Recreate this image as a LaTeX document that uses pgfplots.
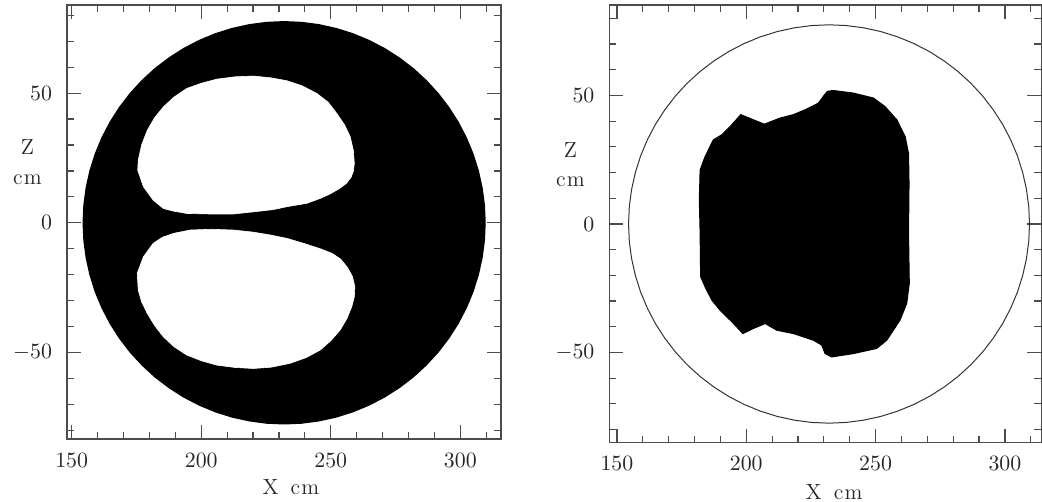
\documentclass[border=0pt]{standalone}
\usepackage{pgfplots}
\usepackage{pgfplotstable}
\pgfplotsset{compat=1.18}

\pgfplotstableread{
x y
309.50 0
309.21 6.76
308.32 13.46
306.86 20.06
304.83 26.51
302.24 32.75
299.12 38.75
295.48 44.45
291.37 49.82
286.80 54.80
281.82 59.37
276.45 63.48
270.75 67.12
264.75 70.24
258.51 72.83
252.06 74.86
245.46 76.32
238.75 77.21
232.00 77.50
225.25 77.21
218.54 76.32
211.94 74.86
205.49 72.83
199.25 70.24
193.25 67.12
187.55 63.48
182.18 59.37
177.20 54.80
172.63 49.82
168.52 44.45
164.88 38.75
161.76 32.75
159.17 26.51
157.14 20.06
155.68 13.46
154.80 6.76
154.50 0
154.80 -6.76
155.68 -13.46
157.14 -20.06
159.17 -26.51
161.76 -32.75
164.88 -38.75
168.52 -44.45
172.63 -49.82
177.20 -54.80
182.18 -59.37
187.55 -63.48
193.25 -67.12
199.25 -70.24
205.49 -72.83
211.94 -74.86
218.54 -76.32
225.25 -77.21
232.00 -77.50
238.75 -77.21
245.46 -76.32
252.06 -74.86
258.51 -72.83
264.75 -70.24
270.75 -67.12
276.45 -63.48
281.82 -59.37
286.80 -54.80
291.37 -49.82
295.48 -44.45
299.12 -38.75
302.24 -32.75
304.83 -26.51
306.86 -20.06
308.32 -13.46
309.21 -6.76
309.50 0
}\circletab

\pgfplotstableread{
x y
175.7 24.2
177.0 30.0
179.2 35.7
182.0 40.5
185.4 44.7
189.5 48.5
194.4 51.8
200.0 53.8
206.0 55.4
213.0 56.3
220.1 56.6
227.0 55.9
233.0 54.8
239.0 52.8
244.6 49.9
249.0 46.5
252.3 42.2
255.3 37.8
257.5 33.2
258.7 28.0
259.1 22.9
258.7 19.8
257.8 17.5
256.0 15.2
253.5 13.3
249.5 11.0
245.9 9.4
240.7 7.5
233.0 6.2
227.9 5.1
220.0 4.2
212.4 3.4
203.0 3.4
194.4 3.6
189.3 4.5
185.4 5.5
181.5 8.7
177.7 13.9
175.5 20.3
175.7 24.2
}\upperhole

\pgfplotstableread{
x y
189.3 -4.1
195.7 -2.8
204.0 -2.5
212.4 -2.8
220.0 -3.6
226.6 -4.7
233.0 -6.0
239.4 -7.9
245.9 -10.0
250.5 -11.8
253.8 -14.0
256.5 -17.3
258.4 -20.8
259.3 -24.7
259.1 -28.5
258.1 -32.4
256.2 -37.0
253.6 -41.4
250.0 -45.5
245.9 -49.1
240.5 -52.0
234.3 -54.2
227.0 -55.7
220.1 -56.2
213.0 -55.8
206.0 -54.9
200.0 -53.2
194.4 -51.0
189.5 -47.8
185.4 -44.0
182.0 -39.6
179.2 -35.0
177.0 -30.5
175.7 -26.0
175.3 -19.5
177.7 -13.1
181.5 -7.9
185.0 -5.6
189.3 -4.1
}\lowerhole

\pgfplotstableread{
x y
182.2 21.0
184.1 26.2
187.3 32.7
190.6 34.7
193.8 37.9
197.9 42.5
202.8 40.5
207.0 38.8
213.1 41.2
218.2 42.5
223.4 44.7
227.9 47.0
229.8 49.6
231.4 51.6
233.7 51.9
241.4 50.9
249.1 49.0
253.6 45.7
258.2 40.5
261.4 34.0
262.7 27.5
262.9 15.8
262.7 -3.6
263.0 -23.1
262.0 -30.9
259.4 -37.4
254.3 -45.2
250.4 -48.4
241.4 -50.4
233.0 -51.7
230.5 -50.4
229.2 -47.1
226.0 -45.2
218.2 -42.6
211.8 -41.3
207.3 -38.7
202.8 -40.6
198.7 -42.6
195.1 -38.7
189.9 -33.5
186.7 -29.6
184.1 -24.4
182.4 -20.5
182.2 -3.6
181.9 9.4
182.2 21.0
}\shapetab

\pgfplotsset{
  panel/.style={
    scale only axis,
    anchor=south west,
    axis line style={black!70, line width=0.6bp},
    tick style={black!70, line width=0.6bp},
    tick align=inside,
    major tick length=7bp,
    minor tick length=3.5bp,
    xtick={150,200,250,300},
    ytick={-50,0,50},
    minor xtick={160,170,180,190,210,220,230,240,260,270,280,290,310},
    minor ytick={-80,-70,-60,-40,-30,-20,-10,10,20,30,40,60,70,80},
    ticklabel style={font=\fontsize{11}{13}\selectfont, text=black!85},
    yticklabel style={xshift=-4bp},
    xticklabel style={yshift=-3.5bp},
    xlabel={X\hspace{6bp}c\hspace{0.6bp}m},
    ylabel={Z\\c\hspace{0.6bp}m},
    clip=true,
  }
}

\begin{document}
\begin{tikzpicture}
\useasboundingbox (0,0) rectangle (521bp,251bp);

\begin{axis}[panel,
  at={(33.5bp,31.5bp)}, width=217bp, height=217bp,
  xmin=148.2, xmax=315.7, ymin=-83.4, ymax=84,
  every axis x label/.style={at={(axis description cs:0.516,-0.1106)}, anchor=center, font=\fontsize{11}{13}\selectfont, text=black!85},
  every axis y label/.style={at={(axis description cs:-0.091,0.638)}, anchor=center, align=center, font=\fontsize{11}{14.6}\selectfont, text=black!85},
]
\addplot[fill=black, draw=black, line width=0.8bp] table {\circletab};
\addplot[fill=white, draw=white, line width=0.3bp] table {\upperhole};
\addplot[fill=white, draw=white, line width=0.3bp] table {\lowerhole};
\end{axis}

\begin{axis}[panel,
  at={(304.7bp,29.65bp)}, width=216bp, height=218.85bp,
  xmin=147.1, xmax=314.1, ymin=-85.1, ymax=85.2,
  every axis x label/.style={at={(axis description cs:0.52,-0.112)}, anchor=center, font=\fontsize{11}{13}\selectfont, text=black!85},
  every axis y label/.style={at={(axis description cs:-0.09,0.636)}, anchor=center, align=center, font=\fontsize{11}{14.6}\selectfont, text=black!85},
]
\addplot[draw=black!80, line width=0.5bp] table {\circletab};
\addplot[fill=black, draw=black, line width=0.6bp] table {\shapetab};
\end{axis}
\end{tikzpicture}
\end{document}
